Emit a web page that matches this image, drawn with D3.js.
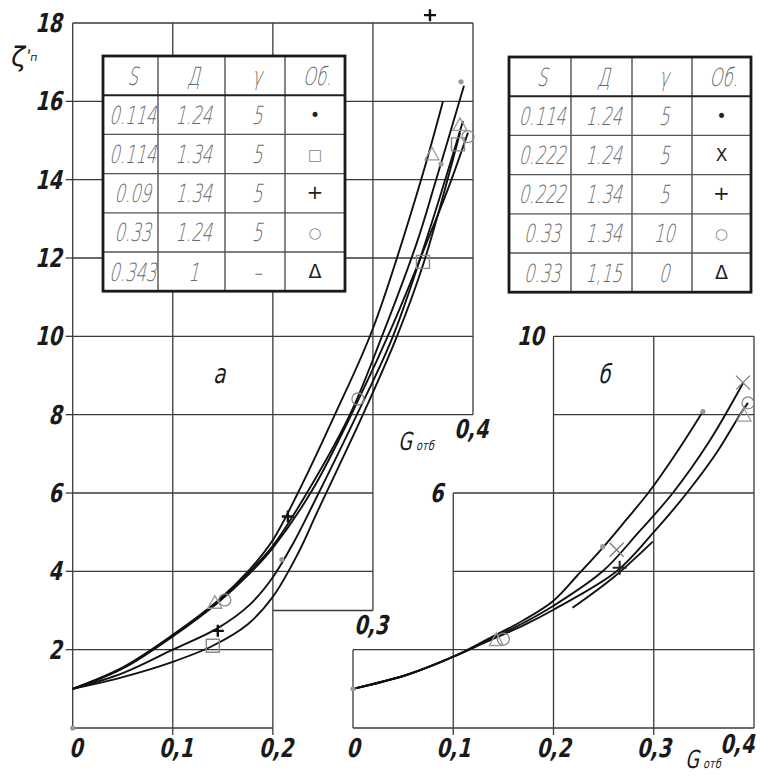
<!DOCTYPE html>
<html>
<head>
<meta charset="utf-8">
<script src="https://cdn.jsdelivr.net/npm/d3@7"></script>
<style>
  body { margin: 0; background: #fff; }
  svg text { font-family: "DejaVu Sans", sans-serif; }
</style>
</head>
<body>
<div id="chart"></div>
<script>
// legend tables
const tableHead = ["S", "Д", "γ", "Об."];
const tableRowsA = [
  ["0.114", "1.24", "5", "•"],
  ["0.114", "1.34", "5", "□"],
  ["0.09", "1.34", "5", "+"],
  ["0.33", "1.24", "5", "○"],
  ["0.343", "1", "–", "Δ"]
];
const tableRowsB = [
  ["0.114", "1.24", "5", "•"],
  ["0.222", "1.24", "5", "X"],
  ["0.222", "1.34", "5", "+"],
  ["0.33", "1.34", "10", "○"],
  ["0.33", "1,15", "0", "Δ"]
];

// ticks
const yTicksA = [2, 4, 6, 8, 10, 12, 14, 16, 18];
const xTicksA = [0, 0.1, 0.2];
const xStepTicksA = [[0.3, 3], [0.4, 8]];   // tick value, level of the step
const yTicksB = [6, 10];
const xTicksB = [0, 0.1, 0.2, 0.3, 0.4];

// grid outline of chart а: [level, from G, to G] and [G, from ζ, to ζ]
const gridA_h = [[0, 0, 0.2], [2, 0, 0.2], [3, 0.2, 0.3], [4, 0, 0.3], [6, 0, 0.3],
  [8, 0, 0.4], [10, 0, 0.4], [12, 0, 0.4], [14, 0, 0.4], [16, 0, 0.4], [18, 0, 0.4]];
const gridA_v = [[0, 0, 18], [0.1, 0, 18], [0.2, 0, 18], [0.3, 3, 18], [0.4, 8, 18]];
// grid outline of chart б
const gridB_h = [[0, 0, 0.4], [2, 0, 0.4], [4, 0.1, 0.4], [6, 0.1, 0.4], [8, 0.2, 0.4], [10, 0.2, 0.4]];
const gridB_v = [[0, 0, 2], [0.1, 0, 6], [0.2, 0, 10], [0.3, 0, 10], [0.4, 0, 10]];

// curves, chart а  (G, ζ)
const curveA_dot = [[0,1],[0.05,1.53],[0.1,2.36],[0.145,3.23],[0.177,4.0],[0.2,4.65],[0.234,6.0],[0.277,8.0],[0.309,10.0],[0.344,12.4],[0.362,13.9],[0.391,16.4]];
const curveA_square = [[0,1],[0.05,1.3],[0.1,1.69],[0.14,2.1],[0.175,2.65],[0.2,3.35],[0.225,4.45],[0.245,5.55],[0.29,8.0],[0.324,10.0],[0.351,11.9],[0.387,15.2]];
const curveA_plus = [[0,1],[0.05,1.4],[0.1,2.0],[0.145,2.55],[0.177,3.15],[0.2,3.85],[0.22,4.7],[0.24,5.7],[0.284,8.0],[0.32,10.0],[0.355,12.6],[0.39,15.5]];
const curveA_circle = [[0,1],[0.05,1.52],[0.1,2.34],[0.145,3.2],[0.177,3.95],[0.2,4.6],[0.24,6.1],[0.284,8.3],[0.32,10.3],[0.357,12.6],[0.377,13.9],[0.395,15.2]];
const curveA_triangle = [[0,1],[0.05,1.55],[0.1,2.38],[0.145,3.25],[0.177,4.05],[0.2,4.8],[0.225,6.0],[0.262,8.0],[0.3,10.2],[0.347,13.9],[0.37,16.0]];

// curves, chart б
const curveB_dot = [[0,1],[0.054,1.36],[0.1,1.82],[0.133,2.25],[0.17,2.75],[0.2,3.25],[0.224,3.9],[0.249,4.6],[0.272,5.3],[0.296,6.05],[0.322,7.0],[0.349,8.08]];
const curveB_times = [[0,1],[0.054,1.36],[0.1,1.82],[0.133,2.22],[0.17,2.68],[0.2,3.12],[0.249,4.0],[0.285,5.0],[0.319,6.0],[0.355,7.3],[0.389,8.8]];
const curveB_circle = [[0,1],[0.054,1.36],[0.1,1.82],[0.133,2.2],[0.17,2.62],[0.2,3.02],[0.263,4.0],[0.3,5.0],[0.333,6.0],[0.362,7.0],[0.386,8.0],[0.394,8.3]];
const curveB_plus = [[0.219,3.07],[0.26,3.85],[0.299,4.76]];

// measured points
const plusA = [[0.357,18.2],[0.215,5.4],[0.145,2.48]];
const squareA = [[0.14,2.1],[0.35,11.9],[0.385,14.9]];
const circleA = [[0.152,3.27],[0.285,8.4],[0.395,15.1]];
const triangleA = [[0.142,3.2],[0.359,14.65],[0.387,15.4]];
const dotA = [[0,0],[0.388,16.5],[0.368,14.4],[0.209,4.3]];

const dotB = [[0,1],[0.249,4.63],[0.349,8.08]];
const timesB = [[0.263,4.55],[0.389,8.82]];
const plusB = [[0.266,4.09]];
const circleB = [[0.15,2.27],[0.394,8.3]];
const triangleB = [[0.143,2.25],[0.39,7.98]];

const width = 760, height = 776;
const svg = d3.select("#chart").append("svg")
  .attr("width", width)
  .attr("height", height);

const y = d3.scaleLinear().domain([0, 18]).range([728, 23]);
const xa = d3.scaleLinear().domain([0, 0.4]).range([72.7, 473]);
const xb = d3.scaleLinear().domain([0, 0.4]).range([353, 754]);

const gridColor = "#3a3a3a";

// italic, narrow lettering like the drawing font
function label(g, str, x, yy, opts) {
  const o = Object.assign({ size: 26, sx: 0.74, anchor: "middle", weight: 700, fill: "#1a1a1a", skew: -13 }, opts || {});
  return g.append("text")
    .attr("transform", `translate(${x},${yy}) skewX(${o.skew}) scale(${o.sx},1)`)
    .attr("text-anchor", o.anchor)
    .attr("font-size", o.size)
    .attr("font-weight", o.weight)
    .attr("fill", o.fill)
    .text(str);
}

function drawGrid(g, x, hs, vs) {
  g.append("g").selectAll("line").data(hs).join("line")
    .attr("x1", d => x(d[1])).attr("x2", d => x(d[2]))
    .attr("y1", d => y(d[0])).attr("y2", d => y(d[0]))
    .attr("stroke", gridColor).attr("stroke-width", 1.3);
  g.append("g").selectAll("line").data(vs).join("line")
    .attr("x1", d => x(d[0])).attr("x2", d => x(d[0]))
    .attr("y1", d => y(d[1])).attr("y2", d => y(d[2]))
    .attr("stroke", gridColor).attr("stroke-width", 1.3);
}

const grid = svg.append("g");
drawGrid(grid, xa, gridA_h, gridA_v);
drawGrid(grid, xb, gridB_h, gridB_v);

// small tick stubs
grid.append("g").selectAll("line").data(yTicksA.filter(d => d < 18)).join("line")
  .attr("x1", xa(0) - 7).attr("x2", xa(0))
  .attr("y1", d => y(d)).attr("y2", d => y(d))
  .attr("stroke", gridColor).attr("stroke-width", 1.3);
grid.append("g").selectAll("line").data(xTicksA.filter(d => d > 0)).join("line")
  .attr("x1", d => xa(d)).attr("x2", d => xa(d))
  .attr("y1", y(0)).attr("y2", y(0) + 7)
  .attr("stroke", gridColor).attr("stroke-width", 1.3);
grid.append("g").selectAll("line").data(xTicksB.filter(d => d > 0 && d < 0.4)).join("line")
  .attr("x1", d => xb(d)).attr("x2", d => xb(d))
  .attr("y1", y(0)).attr("y2", y(0) + 7)
  .attr("stroke", gridColor).attr("stroke-width", 1.3);

// curves
function drawCurves(g, x, list) {
  const line = d3.line()
    .x(d => x(d[0]))
    .y(d => y(d[1]))
    .curve(d3.curveCatmullRom.alpha(0.5));
  g.append("g").selectAll("path").data(list).join("path")
    .attr("d", line)
    .attr("fill", "none")
    .attr("stroke", "#111")
    .attr("stroke-width", 1.9);
}
drawCurves(svg, xa, [curveA_dot, curveA_square, curveA_plus, curveA_circle, curveA_triangle]);
drawCurves(svg, xb, [curveB_dot, curveB_times, curveB_circle, curveB_plus]);

// markers
const markPaths = {
  plus: s => `M${-s},0H${s}M0,${-s}V${s}`,
  times: s => `M${-s},${-s}L${s},${s}M${-s},${s}L${s},${-s}`,
  square: s => `M${-s},${-s}H${s}V${s}H${-s}Z`,
  triangle: s => `M0,${-s}L${s},${s * 0.8}H${-s}Z`,
  circle: s => `M${s},0A${s},${s} 0 1,1 ${-s},0A${s},${s} 0 1,1 ${s},0`
};
function drawMarks(g, x, pts, kind, size, color, sw) {
  g.append("g").selectAll("path").data(pts).join("path")
    .attr("transform", d => `translate(${x(d[0])},${y(d[1])})`)
    .attr("d", markPaths[kind](size))
    .attr("fill", "none")
    .attr("stroke", color)
    .attr("stroke-width", sw);
}
function drawDots(g, x, pts, r, color) {
  g.append("g").selectAll("circle").data(pts).join("circle")
    .attr("cx", d => x(d[0])).attr("cy", d => y(d[1]))
    .attr("r", r).attr("fill", color);
}
const marks = svg.append("g");
drawMarks(marks, xa, plusA, "plus", 6, "#111", 2.4);
drawMarks(marks, xa, squareA, "square", 6.5, "#8a8a8a", 1.4);
drawMarks(marks, xa, circleA, "circle", 6, "#8a8a8a", 1.3);
drawMarks(marks, xa, triangleA, "triangle", 7, "#9a9a9a", 1.3);
drawDots(marks, xa, dotA, 2.6, "#999");

drawMarks(marks, xb, plusB, "plus", 7, "#222", 2);
drawMarks(marks, xb, timesB, "times", 7, "#777", 1.2);
drawMarks(marks, xb, circleB, "circle", 6, "#8a8a8a", 1.3);
drawMarks(marks, xb, triangleB, "triangle", 7, "#9a9a9a", 1.3);
drawDots(marks, xb, dotB, 2.6, "#999");

// legend tables
function drawTable(x0, y0, colW, rowH, rows) {
  const g = svg.append("g").attr("transform", `translate(${x0},${y0})`);
  const w = d3.sum(colW), h = rowH * (rows.length + 1);
  const cx = colW.map((c, i) => d3.sum(colW.slice(0, i)));
  g.append("rect").attr("width", w).attr("height", h).attr("fill", "#fff");
  g.selectAll("line.c").data(cx.slice(1)).join("line").attr("class", "c")
    .attr("x1", d => d).attr("x2", d => d).attr("y1", 0).attr("y2", h)
    .attr("stroke", "#444").attr("stroke-width", 1.3);
  g.selectAll("line.r").data(d3.range(1, rows.length + 1)).join("line").attr("class", "r")
    .attr("x1", 0).attr("x2", w).attr("y1", d => d * rowH).attr("y2", d => d * rowH)
    .attr("stroke", d => d === 1 ? "#222" : "#555").attr("stroke-width", d => d === 1 ? 2 : 1.3);
  g.append("rect").attr("width", w).attr("height", h)
    .attr("fill", "none").attr("stroke", "#1a1a1a").attr("stroke-width", 2.8);
  [tableHead].concat(rows).forEach((row, r) => {
    row.forEach((txt, c) => {
      const mx = cx[c] + colW[c] / 2;
      const my = r * rowH + rowH / 2;
      if (c === 3 && r > 0) {
        const dark = ["•", "+", "X", "Δ"].includes(txt);
        const fs = { "•": 17, "□": 15, "○": 15, "+": 20, "X": 17, "Δ": 19 }[txt] || 18;
        g.append("text").attr("x", mx).attr("y", my + 6)
          .attr("text-anchor", "middle")
          .attr("font-size", fs)
          .attr("fill", dark ? "#222" : "#888")
          .text(txt);
      } else {
        label(g, txt, mx + 2, my + 9, { size: 25, sx: 0.66, weight: 200, fill: "#6a6a6a" });
      }
    });
  });
}
drawTable(103, 56, [55, 67, 60, 60], 39.2, tableRowsA);
drawTable(509, 57, [62, 61, 60, 59], 39.2, tableRowsB);

// axis labels
const fmt = d => d === 0 ? "0" : String(d).replace(".", ",");
const labels = svg.append("g");
yTicksA.forEach(v => label(labels, v, xa(0) - 11, y(v) + 9, { anchor: "end" }));
xTicksA.forEach(v => label(labels, fmt(v), xa(v) + 3, y(0) + 29));
xStepTicksA.forEach(d => label(labels, fmt(d[0]), xa(d[0]) - 2, y(d[1]) + 23));
yTicksB.forEach(v => label(labels, v, xb(v === 6 ? 0.1 : 0.2) - 10, y(v) + 9, { anchor: "end" }));
xTicksB.forEach(v => label(labels, fmt(v), xb(v) + (v === 0.4 ? -17 : 0), y(0) + (v === 0.4 ? 25 : 29)));

// axis names
const zeta = svg.append("text")
  .attr("transform", "translate(10,66) skewX(-8)")
  .attr("font-size", 27).attr("fill", "#1a1a1a");
zeta.append("tspan").text("ζ");
zeta.append("tspan").attr("font-size", 16).attr("dy", -5).text("'");
zeta.append("tspan").attr("font-size", 11).attr("dy", 0).text("п");

function gName(x0, y0) {
  label(svg, "G", x0, y0, { size: 25, anchor: "start", sx: 0.7, weight: 400 });
  label(svg, "отб", x0 + 18, y0, { size: 13, anchor: "start", sx: 0.75, weight: 400 });
}
gName(398, 450);
gName(685, 768);

label(svg, "а", 219, 383, { size: 27, weight: 400 });
label(svg, "б", 604, 383, { size: 26, weight: 400 });
</script>
</body>
</html>
